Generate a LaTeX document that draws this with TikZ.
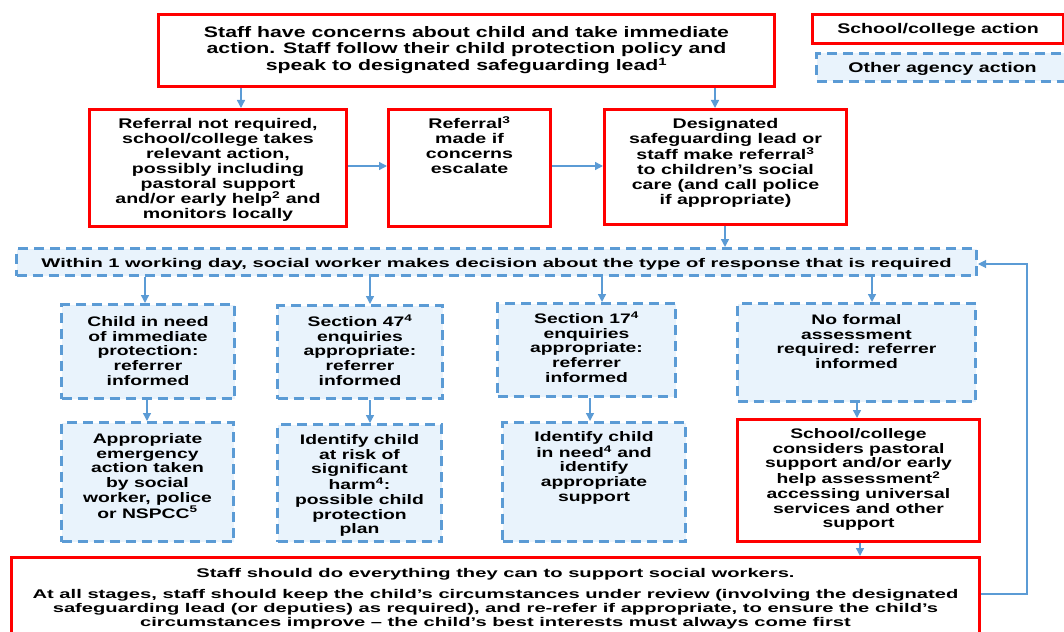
\documentclass[tikz,border=0pt]{standalone}
\usepackage{fontspec}
\setmainfont{Liberation Sans}
\newfontfamily\wf[FakeStretch=1.40]{Liberation Sans}
\newfontfamily\nf[FakeStretch=1.60]{Liberation Sans}
\usetikzlibrary{arrows.meta}
\definecolor{rd}{HTML}{FF0000}
\definecolor{bl}{HTML}{5B9BD5}
\definecolor{lb}{HTML}{E9F3FC}
\newcommand{\bxt}[4]{\parbox[c][#2][t]{#1}{\centering\rule{0pt}{#3}#4\par}}
\begin{document}
\begin{tikzpicture}[x=1pt,y=-1pt,
 rbox/.style={draw=rd, line width=3pt, fill=white, inner sep=0pt, anchor=north west},
 bbox/.style={draw=bl, line width=3pt, dash pattern=on 10pt off 6pt, fill=lb, inner sep=0pt, anchor=north west},
 arr/.style={draw=bl, line width=1.4pt, -{Triangle[length=8pt,width=8pt]}},
 fbline/.style={draw=bl, line width=1.1pt, -{Triangle[length=8pt,width=8pt]}},
 wtop/.style={font=\wf\bfseries\fontsize{15.2}{16.5}\selectfont},
 wmid/.style={font=\wf\bfseries\fontsize{14}{15}\selectfont},
 wlow/.style={font=\wf\bfseries\fontsize{13.8}{14.7}\selectfont},
 narrow/.style={font=\nf\bfseries\fontsize{12.6}{14}\selectfont}
]
\useasboundingbox (0,0) rectangle (1064,631);

% legend
\node[rbox, wmid] (L1) at (811,13) {\bxt{251pt}{29pt}{19pt}{School/college action}};
\node[bbox, wmid] (L2) at (815,52) {\bxt{252pt}{28pt}{19pt}{Other agency action}};

% top
\node[rbox, wtop] (T) at (157,13) {\bxt{616pt}{72pt}{23pt}{Staff have concerns about child and take immediate\\action. Staff follow their child protection policy and\\speak to designated safeguarding lead\textsuperscript{1}}};

% row 2
\node[rbox, wmid] (A) at (88,108) {\bxt{257pt}{117pt}{19pt}{Referral not required,\\school/college takes\\relevant action,\\possibly including\\pastoral support\\and/or early help\textsuperscript{2} and\\monitors locally}};
\node[rbox, wmid] (B) at (387,108) {\bxt{162pt}{117pt}{19pt}{Referral\textsuperscript{3}\\made if\\concerns\\escalate}};
\node[rbox, wmid] (C) at (603,108) {\bxt{242pt}{115pt}{19pt}{Designated\\safeguarding lead or\\staff make referral\textsuperscript{3}\\to children’s social\\care (and call police\\if appropriate)}};

% decision
\node[bbox, narrow] (Dec) at (15,247) {\bxt{960pt}{27pt}{19pt}{Within 1 working day, social worker makes decision about the type of response that is required}};

% row 3
\node[bbox, wlow] (D1) at (60,303) {\bxt{173pt}{94pt}{22pt}{Child in need\\of immediate\\protection:\\referrer\\informed}};
\node[bbox, wlow] (D2) at (276,304) {\bxt{165pt}{93pt}{21pt}{Section 47\textsuperscript{4}\\enquiries\\appropriate:\\referrer\\informed}};
\node[bbox, wlow] (D3) at (496,302) {\bxt{178pt}{93pt}{20pt}{Section 17\textsuperscript{4}\\enquiries\\appropriate:\\referrer\\informed}};
\node[bbox, wlow] (D4) at (736,302) {\bxt{238pt}{98pt}{21pt}{No formal\\assessment\\required: referrer\\informed}};

% row 4
\node[bbox, wlow] (E1) at (60,421) {\bxt{172pt}{119pt}{21pt}{Appropriate\\emergency\\action taken\\by social\\worker, police\\or NSPCC\textsuperscript{5}}};
\node[bbox, wlow] (E2) at (276,423) {\bxt{164pt}{117pt}{20pt}{Identify child\\at risk of\\significant\\harm\textsuperscript{4}:\\possible child\\protection\\plan}};
\node[bbox, wlow] (E3) at (501,421) {\bxt{183pt}{119pt}{19pt}{Identify child\\in need\textsuperscript{4} and\\identify\\appropriate\\support}};
\node[rbox, wlow] (E4) at (736,418) {\bxt{242pt}{122pt}{19pt}{School/college\\considers pastoral\\support and/or early\\help assessment\textsuperscript{2}\\accessing universal\\services and other\\support}};

% bottom
\node[rbox, narrow] (Bot) at (10,556) {\bxt{968pt}{82pt}{20pt}{Staff should do everything they can to support social workers.\\[7pt]At all stages, staff should keep the child’s circumstances under review (involving the designated\\safeguarding lead (or deputies) as required), and re-refer if appropriate, to ensure the child’s\\circumstances improve – the child’s best interests must always come first}};

% connectors
\draw[arr] (T.south -| 241,0) -- (A.north -| 241,0);
\draw[arr] (T.south -| 715,0) -- (C.north -| 715,0);
\draw[arr] (A.east |- 0,166) -- (B.west |- 0,166);
\draw[arr] (B.east |- 0,166) -- (C.west |- 0,166);
\draw[arr] (C.south -| 725,0) -- (Dec.north -| 725,0);
\draw[arr] (Dec.south -| 145,0) -- (D1.north -| 145,0);
\draw[arr] (Dec.south -| 370,0) -- (D2.north -| 370,0);
\draw[arr] (Dec.south -| 602,0) -- (D3.north -| 602,0);
\draw[arr] (Dec.south -| 872,0) -- (D4.north -| 872,0);
\draw[arr] (D1.south -| 147,0) -- (E1.north -| 147,0);
\draw[arr] (D2.south -| 370,0) -- (E2.north -| 370,0);
\draw[arr] (D3.south -| 590,0) -- (E3.north -| 590,0);
\draw[arr] (D4.south -| 857,0) -- (E4.north -| 857,0);
\draw[arr] (E4.south -| 860,0) -- (Bot.north -| 860,0);
\coordinate (fb1) at (1027,594);
\coordinate (fb2) at (1027,264);
\draw[fbline] (Bot.east |- fb1) -- (fb1) -- (fb2) -- (Dec.east |- fb2);
\end{tikzpicture}
\end{document}
